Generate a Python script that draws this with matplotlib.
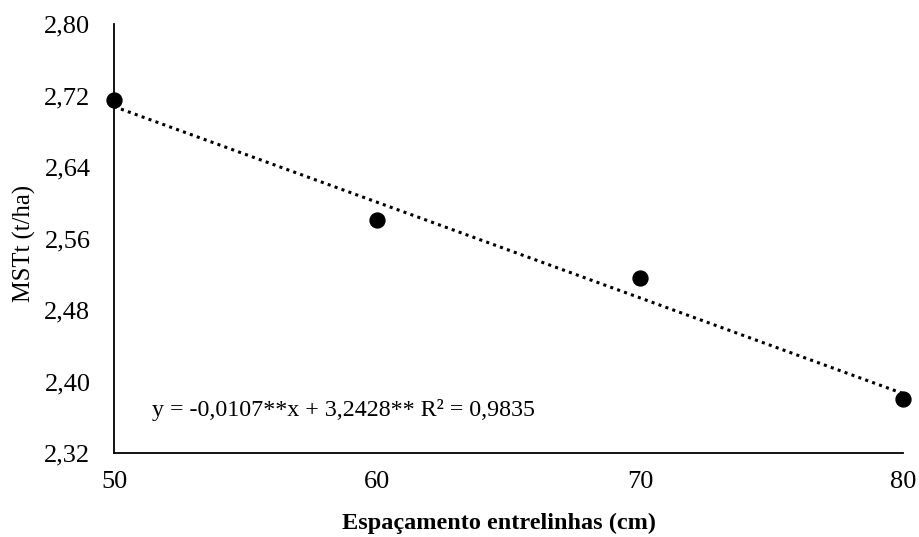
import matplotlib
matplotlib.use("Agg")
import matplotlib.pyplot as plt
import numpy as np

plt.rcParams['font.family'] = ['Liberation Serif', 'DejaVu Serif']

espacamento = [50, 60, 70, 80]
mst = [2.715, 2.581, 2.516, 2.381]
slope = -0.0107
intercept = 3.2428
xticks = [50, 60, 70, 80]
yticks = [2.32, 2.40, 2.48, 2.56, 2.64, 2.72, 2.80]
equation = "y = -0,0107**x + 3,2428** R² = 0,9835"

fig = plt.figure(figsize=(9.2, 5.37), dpi=100)
ax = fig.add_axes([0.124, 0.156, 0.8575, 0.799])

xl = np.array([min(espacamento), max(espacamento)])
ax.plot(xl, slope * xl + intercept, linestyle=(0, (1, 1.4)), color='black', linewidth=2.2, zorder=2)
ax.scatter(espacamento, mst, s=115, color='black', zorder=3, clip_on=False)

ax.set_xlim(50, 80)
ax.set_ylim(2.32, 2.80)
ax.set_xticks(xticks)
ax.set_xticklabels([str(v) for v in xticks])
ax.set_yticks(yticks)
ax.set_yticklabels([f"{v:.2f}".replace('.', ',') for v in yticks])
ax.tick_params(axis='both', length=0, labelsize=19)
ax.tick_params(axis='x', pad=13)
ax.tick_params(axis='y', pad=17)

for s in ['top', 'right']:
    ax.spines[s].set_visible(False)
for s in ['left', 'bottom']:
    ax.spines[s].set_linewidth(1.3)

ax.set_xlabel('Espaçamento entrelinhas (cm)', fontsize=17.5, fontweight='bold', labelpad=14)
ax.set_ylabel('MSTt (t/ha)', fontsize=17.7, labelpad=6)
ax.xaxis.label.set_x(0.488)
ax.yaxis.label.set_y(0.4895)

ax.text(51.45, 2.368, equation, fontsize=17.3, va='center', ha='left')

fig.savefig('out.png', dpi=100)
